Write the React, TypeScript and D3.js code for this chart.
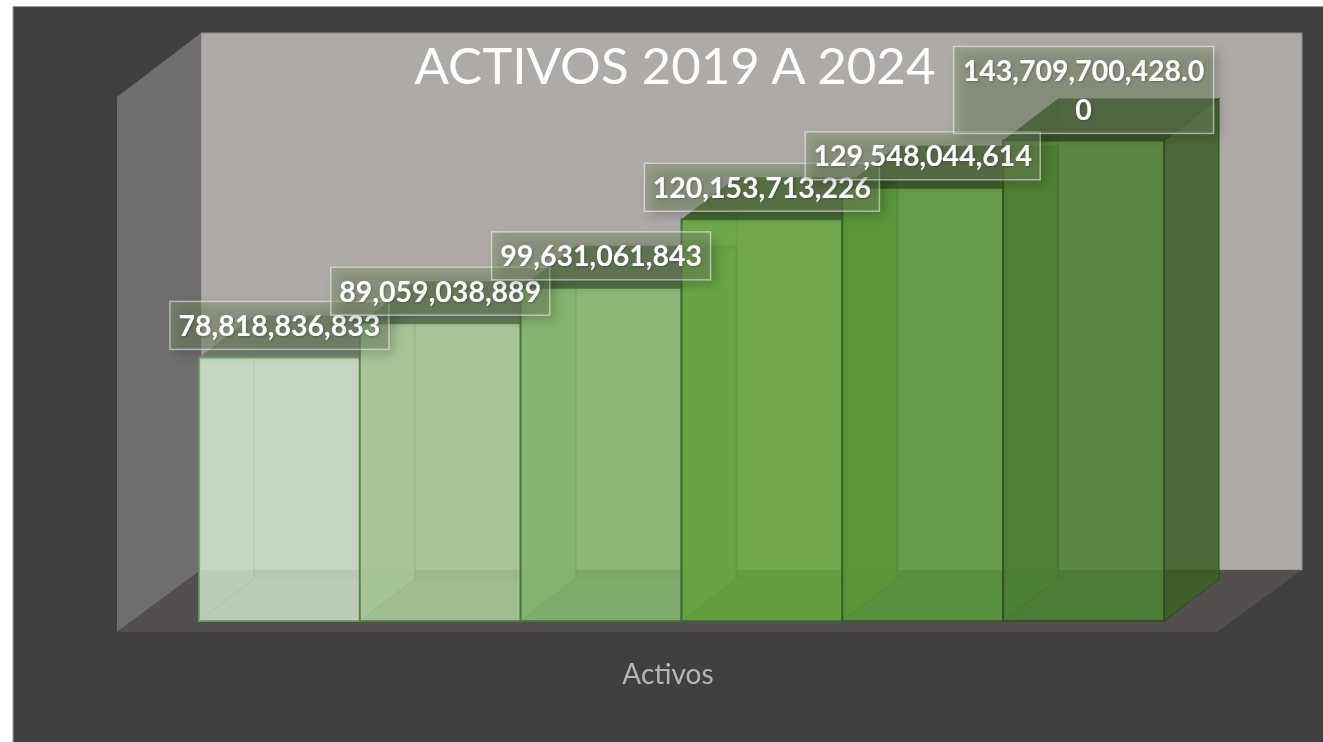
import React from "react";
import * as d3 from "d3";

const years = ["2019", "2020", "2021", "2022", "2023", "2024"];
const activos = [78818836833, 89059038889, 99631061843, 120153713226, 129548044614, 143709700428];
const labelLines = [
  ["78,818,836,833"],
  ["89,059,038,889"],
  ["99,631,061,843"],
  ["120,153,713,226"],
  ["129,548,044,614"],
  ["143,709,700,428.0", "0"],
];
const barColors = ["#c9dcc2", "#a8cb98", "#85b870", "#68a641", "#5a983a", "#4e8131"];
const edgeColors = ["#6a9c5a", "#4f8040", "#447436", "#3a6a2a", "#335c24", "#2c4f1e"];
const yTicks = [0, 160000000000];

const W = 1323;
const H = 742;
const DX = 55;
const DY = 42;
const BASE_Y = 621;
const PLOT_H = 535;

const x = d3.scaleBand<string>().domain(years).range([199, 1164]).paddingInner(0).paddingOuter(0);
const y = d3.scaleLinear().domain(yTicks).range([BASE_Y, BASE_Y - PLOT_H]);

const poly = (pts: [number, number][]) => (d3.line()(pts) as string) + "Z";

export default function App() {
  const bw = x.bandwidth();
  return (
    <svg
      width={W}
      height={H}
      viewBox={`0 0 ${W} ${H}`}
      style={{ position: "absolute", left: 0, top: 0, display: "block", background: "#fff" }}
      fontFamily="Lato, 'Open Sans', sans-serif"
    >
      <defs>
        <filter id="soft" x="-30%" y="-50%" width="160%" height="200%">
          <feGaussianBlur stdDeviation="6" />
        </filter>
        <filter id="edge" filterUnits="userSpaceOnUse" x="0" y="0" width={W} height={H}>
          <feGaussianBlur stdDeviation="0.45" />
        </filter>
        <filter id="txt" x="-5%" y="-20%" width="110%" height="150%">
          <feDropShadow dx="1" dy="1" stdDeviation="1" floodColor="#000" floodOpacity="0.25" />
        </filter>
      </defs>
      <g filter="url(#edge)">
        <rect x={13} y={6.5} width={W} height={H} fill="#404040" stroke="#9a9a9a" strokeWidth={1} />
        <path d={poly([[201, 33], [1302, 33], [1302, 570], [201, 570]])} fill="#aeaaa8" stroke="#8f8c8b" strokeWidth={1} />
        <path d={poly([[117, 97], [201, 33], [201, 570], [117, 632]])} fill="#706e6e" />
        <path d={poly([[117, 632], [201, 570], [1302, 570], [1217, 632]])} fill="#524f50" />

        {years.map((yr, i) => {
          const x0 = x(yr)!;
          const x1 = x0 + bw;
          const top = y(activos[i]);
          const col = barColors[i];
          const edge = edgeColors[i];
          const dark = d3.color(col)!.darker(0.9).formatHex();
          const darker = d3.color(col)!.darker(1.5).formatHex();
          return (
            <g key={yr}>
              <path d={poly([[x0, BASE_Y], [x1, BASE_Y], [x1 + DX, BASE_Y - DY], [x0 + DX, BASE_Y - DY]])} fill={col} fillOpacity={0.2} />
              <path d={poly([[x0, top], [x0 + DX, top - DY], [x0 + DX, BASE_Y - DY], [x0, BASE_Y]])} fill={col} fillOpacity={0.2} />
              <path d={poly([[x1, top], [x1 + DX, top - DY], [x1 + DX, BASE_Y - DY], [x1, BASE_Y]])} fill={dark} fillOpacity={0.85} stroke={edge} strokeWidth={1.5} strokeOpacity={0.7} />
              <path d={poly([[x0, top], [x1, top], [x1 + DX, top - DY], [x0 + DX, top - DY]])} fill={darker} fillOpacity={0.9} />
              <rect x={x0} y={top} width={bw} height={BASE_Y - top} fill={col} fillOpacity={0.857} stroke={edge} strokeWidth={2} strokeOpacity={0.85} />
              <line x1={x0 + DX} x2={x0 + DX} y1={top - DY} y2={BASE_Y - DY} stroke={edge} strokeOpacity={0.1} strokeWidth={2} />
              <line x1={x0} y1={BASE_Y} x2={x0 + DX} y2={BASE_Y - DY} stroke={edge} strokeOpacity={0.07} strokeWidth={2} />
            </g>
          );
        })}

        <text x={675} y={84} textAnchor="middle" fontSize={51} fill="#ffffff">ACTIVOS 2019 A 2024</text>

        {years.map((yr, i) => {
          const lines = labelLines[i];
          const cx = x(yr)! + bw / 2;
          const h = lines.length > 1 ? 87 : 48;
          const cy = y(activos[i]) + (lines.length > 1 ? -50.5 : -32);
          const w = Math.min(260, lines[0].length * 16 - 5);
          return (
            <g key={"l" + yr}>
              <rect x={cx - w / 2 + 5} y={cy - h / 2 + 5} width={w} height={h} fill="#000" fillOpacity={0.2} filter="url(#soft)" />
              <rect x={cx - w / 2} y={cy - h / 2} width={w} height={h} fill="#7f9468" fillOpacity={0.42} stroke="#ffffff" strokeOpacity={0.5} strokeWidth={1.5} />
              {lines.map((t, k) => (
                <text
                  key={k}
                  x={cx}
                  y={cy + (lines.length > 1 ? -9 : 10.5) + k * 39}
                  textAnchor="middle"
                  fontSize={28.5}
                  fontWeight={700}
                  fill="#ffffff"
                  filter="url(#txt)"
                >
                  {t}
                </text>
              ))}
            </g>
          );
        })}

        <text x={668} y={684} textAnchor="middle" fontSize={28} fill="#b5b5b5">Activos</text>
      </g>
    </svg>
  );
}
